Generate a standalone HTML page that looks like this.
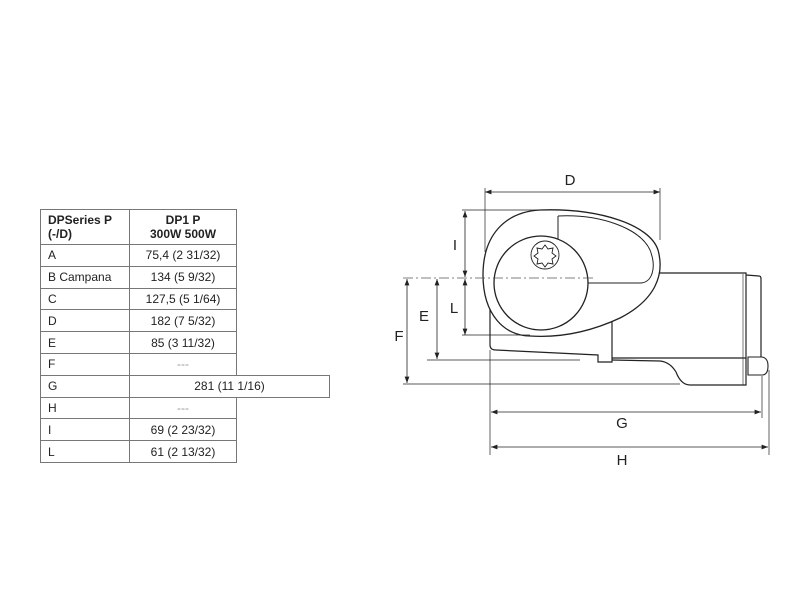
<!DOCTYPE html>
<html><head><style>
body{margin:0;background:#fff;width:800px;height:600px;position:relative;overflow:hidden;font-family:"Liberation Sans",sans-serif;}
table{position:absolute;left:40px;top:209px;border-collapse:collapse;font-size:12px;color:#222;}
td{border:1px solid #777;height:20.8px;padding:0 0 0 7px;line-height:14px;}
td.c{text-align:center;padding:0;}
</style></head><body>
<table>
<tr><td style="width:81px;height:34px;font-weight:bold">DPSeries P<br>(-/D)</td><td class="c" style="width:106px;font-weight:bold">DP1 P<br>300W 500W</td></tr>
<tr><td>A</td><td class="c">75,4 (2 31/32)</td></tr>
<tr><td>B Campana</td><td class="c">134 (5 9/32)</td></tr>
<tr><td>C</td><td class="c">127,5 (5 1/64)</td></tr>
<tr><td>D</td><td class="c">182 (7 5/32)</td></tr>
<tr><td>E</td><td class="c">85 (3 11/32)</td></tr>
<tr><td>F</td><td class="c" style="color:#999">---</td></tr>
<tr><td>G</td><td class="c" style="position:relative"><div style="position:absolute;left:-1px;top:-1px;width:199px;height:100%;border:1px solid #777;background:#fff;line-height:21px;text-align:center;padding-right:0">281 (11 1/16)</div></td></tr>
<tr><td>H</td><td class="c" style="color:#999">---</td></tr>
<tr><td>I</td><td class="c">69 (2 23/32)</td></tr>
<tr><td>L</td><td class="c">61 (2 13/32)</td></tr>
</table>
<svg width="800" height="600" style="position:absolute;left:0;top:0" font-family="Liberation Sans" font-size="15" fill="none" stroke="#222" stroke-width="1">
<defs><marker id="a" markerWidth="8" markerHeight="6" refX="8" refY="3" orient="auto-start-reverse"><path d="M0,0L8,3L0,6z" fill="#222" stroke="none"/></marker></defs>
<path d="M490,300 L490,345 Q490,350 496,350 L598,355 L598,362 L612,362 L612,320" stroke-width="1.2"/>
<path d="M658,273 L746,273 L746,358 L612,358" stroke-width="1.2"/>
<path d="M746,275 L759,276 Q761,276 761,279 L761,357" stroke-width="1.2"/>
<line x1="743" y1="274" x2="743" y2="385" stroke-width="0.6"/>
<path d="M612,360 L660,361 Q670,362 676,372 Q681,385 690,385 L746,385 L746,358" stroke-width="1.2"/>
<path d="M748,357 L762,357 Q768,358 768,366 Q768,375 762,375 L748,375 Z" stroke-width="1.1"/>
<line x1="612" y1="320" x2="612" y2="358"/>
<path d="M540,210 C600,208 650,225 658,250 C665,275 655,300 620,318 C590,332 560,338 530,336 C505,336 483,315 483,275 C483,235 505,212 540,210 Z" fill="#fff" stroke-width="1.3"/>
<path d="M558,216 C600,214 640,228 650,250 C657,268 652,283 640,283 L586,283" stroke-width="1"/>
<line x1="558" y1="216" x2="558" y2="240" stroke-width="1"/>
<circle cx="541" cy="283" r="47" fill="#fff" stroke-width="1.3"/>
<circle cx="545" cy="255" r="14" stroke-width="0.9"/>
<path d="M545,245 l3,4 5,-1 -1,5 4,3 -4,3 1,5 -5,-1 -3,4 -3,-4 -5,1 1,-5 -4,-3 4,-3 -1,-5 5,1z" stroke-width="0.9"/>
<line x1="403" y1="278" x2="595" y2="278" stroke="#555" stroke-dasharray="10,3,2,3" stroke-width="0.8"/>
<line x1="485" y1="192" x2="660" y2="192" marker-start="url(#a)" marker-end="url(#a)" stroke-width="0.8"/>
<line x1="485" y1="188" x2="485" y2="252" stroke-width="0.7"/>
<line x1="660" y1="188" x2="660" y2="240" stroke-width="0.7"/>
<line x1="462" y1="210" x2="540" y2="210" stroke-width="0.7"/>
<line x1="465" y1="211" x2="465" y2="277" marker-start="url(#a)" marker-end="url(#a)" stroke-width="0.8"/>
<line x1="465" y1="279" x2="465" y2="335" marker-start="url(#a)" marker-end="url(#a)" stroke-width="0.8"/>
<line x1="462" y1="335" x2="530" y2="335" stroke-width="0.7"/>
<line x1="437" y1="279" x2="437" y2="359" marker-start="url(#a)" marker-end="url(#a)" stroke-width="0.8"/>
<line x1="427" y1="360" x2="580" y2="360" stroke-width="0.7"/>
<line x1="407" y1="279" x2="407" y2="383" marker-start="url(#a)" marker-end="url(#a)" stroke-width="0.8"/>
<line x1="403" y1="384" x2="680" y2="384" stroke-width="0.7"/>
<line x1="490" y1="350" x2="490" y2="455" stroke-width="0.7"/>
<line x1="762" y1="376" x2="762" y2="418" stroke-width="0.7"/>
<line x1="769" y1="370" x2="769" y2="455" stroke-width="0.7"/>
<line x1="491" y1="412" x2="761" y2="412" marker-start="url(#a)" marker-end="url(#a)" stroke-width="0.8"/>
<line x1="491" y1="447" x2="768" y2="447" marker-start="url(#a)" marker-end="url(#a)" stroke-width="0.8"/>
<g fill="#222" stroke="none" text-anchor="middle">
<text x="570" y="185">D</text><text x="455" y="250">I</text><text x="454" y="313">L</text>
<text x="424" y="321">E</text><text x="399" y="341">F</text>
<text x="622" y="428">G</text><text x="622" y="465">H</text></g>
</svg>
</body></html>
